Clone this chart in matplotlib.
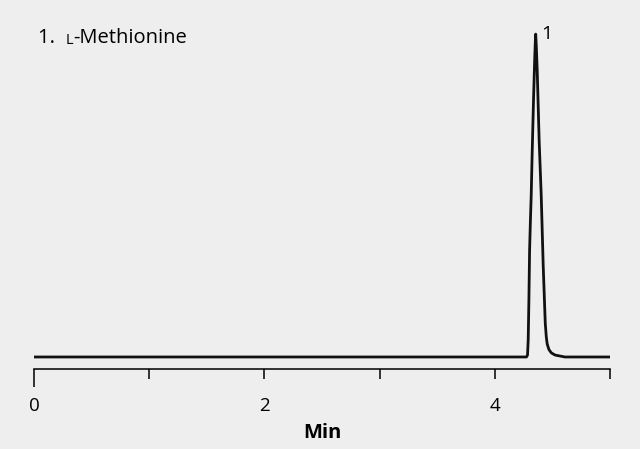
import matplotlib.pyplot as plt

plt.rcParams['font.family'] = ['Open Sans', 'DejaVu Sans']

# chromatogram trace (minutes, relative signal)
time_min = [0.0, 4.275, 4.284, 4.290, 4.296, 4.302, 4.309, 4.316, 4.325,
            4.336, 4.346, 4.352, 4.355, 4.360, 4.368, 4.385, 4.403, 4.420,
            4.438, 4.447, 4.455, 4.470, 4.490, 4.523, 4.609, 5.0]
signal = [0.0, 0.0, 0.6, 5.3, 17.6, 33.1, 42.0, 50.0, 64.0,
          79.5, 91.9, 98.0, 100.0, 96.5, 89.0, 67.0, 50.0, 28.5,
          10.5, 6.2, 4.0, 2.3, 1.3, 0.6, 0.0, 0.0]

peak_time = 4.355
peak_height = 100.0
peak_label = '1'
tick_pos = [0, 1, 2, 3, 4, 5]
tick_labels = ['0', '', '2', '', '4', '']

bg = '#eeeeee'
fig = plt.figure(figsize=(6.4, 4.49), dpi=100, facecolor=bg)
ax = fig.add_axes([34/640, 80/449, 576/640, 352/449], facecolor=bg)

ax.plot(time_min, signal, color='#111111', lw=2.0, solid_joinstyle='round')

ax.set_xlim(0, 5)
ax.set_ylim(-3.72, 105.3)

for s in ['top', 'right', 'left']:
    ax.spines[s].set_visible(False)
ax.spines['bottom'].set_linewidth(1.1)
ax.set_yticks([])

ax.set_xticks(tick_pos)
ax.set_xticklabels(tick_labels)
ax.tick_params(axis='x', direction='out', length=7, width=1.1, labelsize=13.5, pad=13)
ax.xaxis.get_major_ticks()[0].tick1line.set_markersize(13)
ax.set_xlabel('Min', fontsize=14.5, fontweight='bold', labelpad=6)

ax.text(peak_time + 0.045, peak_height, peak_label, fontsize=14, va='center', ha='left')

t1 = fig.text(38/640, 1 - 43/449, '1.  ', fontsize=14.5, va='baseline')
t2 = ax.annotate('L', xy=(1, 0), xycoords=t1, fontsize=10.5, va='bottom')
ax.annotate('-Methionine', xy=(1, 0), xycoords=t2, fontsize=14.5, va='bottom')

fig.savefig('out.png', dpi=100, facecolor=bg)
